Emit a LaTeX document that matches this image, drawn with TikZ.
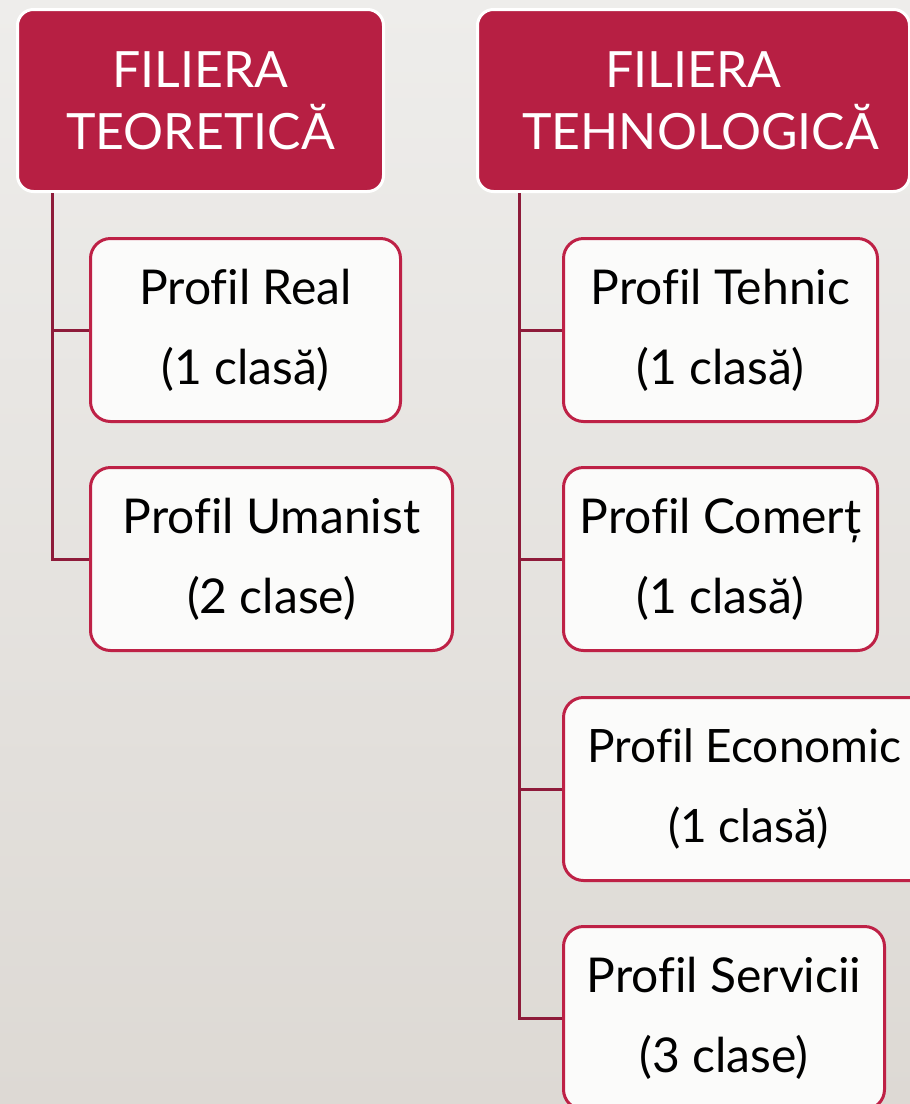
\documentclass[tikz,border=0pt]{standalone}
\usepackage{fontspec}
\setmainfont[Ligatures=NoCommon]{Lato}
\usetikzlibrary{calc}
\definecolor{crim}{HTML}{B71F43}
\definecolor{crimb}{HTML}{BE2146}
\definecolor{connc}{HTML}{8E1B3A}
\definecolor{boxw}{HTML}{FBFBFA}
\definecolor{bgtop}{HTML}{EEEDEB}
\definecolor{bgbot}{HTML}{DDD9D4}
\tikzset{
  head/.style={draw=white, line width=3pt, fill=crim, rounded corners=16pt, text=white,
    align=center, inner sep=0pt, anchor=north west, minimum height=182pt,
    font=\fontsize{50}{62}\selectfont},
  child/.style={draw=crimb, line width=3pt, fill=boxw, rounded corners=20pt, text=black,
    align=center, inner sep=0pt, anchor=north west, minimum height=183pt,
    font=\fontsize{48}{80}\selectfont},
  conn/.style={draw=connc, line width=3pt}
}
\begin{document}
\begin{tikzpicture}[x=1pt,y=-1pt]
\shade[top color=bgtop, bottom color=bgbot] (0,0) rectangle (910,1104);
\useasboundingbox (0,0) rectangle (910,1104);
\node[head, minimum width=366pt] (h1) at (16,8) {FILIERA\\TEORETICĂ};
\node[head, minimum width=432pt] (h2) at (476,8) {FILIERA\\\hspace*{14pt}TEHNOLOGICĂ};
\node[child, minimum width=310pt] (real) at (89,237) {Profil Real\\(1 clasă)};
\node[child, minimum width=362pt] (uman) at (89,466) {Profil Umanist\\(2 clase)};
\node[child, minimum width=314pt] (teh) at (562,237) {Profil Tehnic\\(1 clasă)};
\node[child, minimum width=314pt] (com) at (562,466) {Profil Comerț\\(1 clasă)};
\node[child, minimum width=370pt, font=\fontsize{46}{80}\selectfont] (eco) at (562,696) {\hspace*{0pt}Profil Economic\hspace*{8pt}\\(1 clasă)};
\node[child, minimum width=321pt] (serv) at (562,925) {Profil Servicii\\(3 clase)};
\coordinate (t1) at ($(h1.south west)+(36,0)$);
\coordinate (t2) at ($(h2.south west)+(43,0)$);
\draw[conn] (t1) |- (real.west);
\draw[conn] (t1) |- (uman.west);
\draw[conn] (t2) |- (teh.west);
\draw[conn] (t2) |- (com.west);
\draw[conn] (t2) |- (eco.west);
\draw[conn] (t2) |- (serv.west);
\end{tikzpicture}
\end{document}
